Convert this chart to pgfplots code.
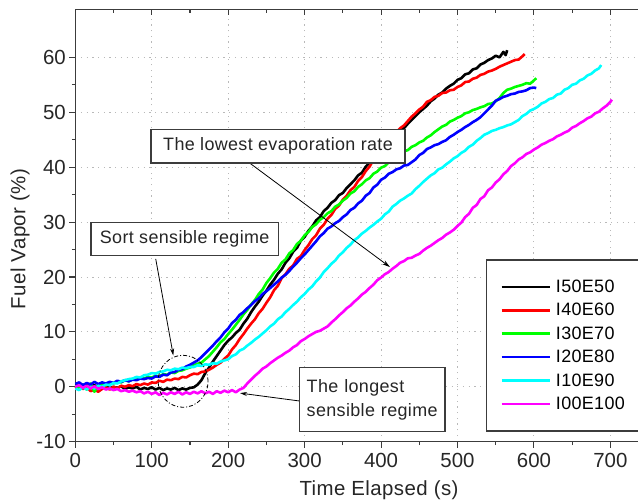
\documentclass[border=0pt]{standalone}
\usepackage{pgfplots}
\pgfplotsset{compat=1.18}
\usepackage{fontspec}
\setmainfont{Liberation Sans}
\newfontfamily\lsp{Liberation Sans}[LetterSpace=2]
\usetikzlibrary{arrows.meta}
\definecolor{axgray}{HTML}{3C3C3C}
\definecolor{cI50}{HTML}{000000}
\definecolor{cI40}{HTML}{FF0000}
\definecolor{cI30}{HTML}{00FF00}
\definecolor{cI20}{HTML}{0000FF}
\definecolor{cI10}{HTML}{00FFFF}
\definecolor{cI00}{HTML}{FF00FF}
\begin{document}
\begin{tikzpicture}
\pgfplotsset{
  common/.style={
    scale only axis, width=588.6bp, height=432.4bp,
    xmin=0, xmax=770, ymin=-10, ymax=68.75,
    xtick={0,100,...,700}, ytick={-10,0,...,60},
    minor x tick num=1, minor y tick num=1,
    major tick length=6bp, minor tick length=3.5bp,
    axis line style={draw=axgray, line width=1.3bp},
    every tick/.style={draw=axgray, line width=1.1bp},
  }
}
\begin{axis}[common,
  at={(0,0)}, anchor=south west,
  xtick pos=bottom, ytick pos=left, tick align=outside,
  clip=false,
  grid=major,
  major grid style={draw=gray!55, line width=0.9bp, dash pattern=on 1.2bp off 4.5bp},
  /pgf/number format/assume math mode=true,
  ticklabel style={font=\fontsize{20.5}{24}\selectfont, text=black!85},
  xticklabel style={yshift=-2bp},
  xlabel={\lsp Time Elapsed (s)},
  ylabel={\lsp Fuel Vapor (\%)},
  label style={font=\fontsize{20.5}{24}\selectfont, text=black!85},
  xlabel style={at={(axis cs:397.3,-10)}, anchor=base, yshift=-53.3bp},
  ylabel style={at={(axis description cs:-0.094,0.4688)}, anchor=center, rotate=0},
  legend cell align=left,
  legend image code/.code={\draw[#1, line width=2.6bp] (0bp,0bp) -- (48bp,0bp);},
  legend style={at={(axis cs:536.9,68.75)}, anchor=north west, yshift=-250bp,
    draw=axgray, line width=1.2bp, fill=white, inner xsep=14bp, inner ysep=20bp,
    row sep=9.4bp, column sep=5bp,
    font=\lsp\fontsize{18}{18}\selectfont,
    nodes={inner sep=0pt}},
  every axis plot/.append style={line width=2.6bp, line join=round},
]
\addplot[cI50] coordinates {
(0,0.2)(5,0.4)(10,-0.1)(15,0.3)(20,0.0)(25,0.3)(30,-0.2)(35,0.1)(40,0.2)(45,-0.3)
(50,0.0)(55,-0.2)(60,0.1)(65,-0.4)(70,-0.1)(75,-0.3)(80,0.0)(85,-0.5)(90,-0.2)(95,-0.4)
(100,-0.1)(105,-0.5)(110,-0.2)(115,-0.6)(120,-0.3)(125,-0.5)(130,-0.2)(135,-0.6)(140,-0.3)(145,-0.5)
(150,-0.2)(155,-0.1)(160,0.4)(165,1.2)(170,2.5)(175,3.5)(180,4.6)(185,5.6)(190,6.6)(195,7.6)
(200,8.4)(205,9.0)(210,9.8)(215,10.4)(220,11.5)(225,12.4)(230,13.6)(235,14.6)(240,15.5)(245,16.6)
(250,17.5)(255,18.6)(260,19.5)(265,20.6)(270,21.4)(275,22.6)(280,23.4)(285,24.6)(290,25.3)(295,26.6)
(300,27.3)(305,28.4)(310,29.2)(315,30.3)(320,30.9)(325,32.0)(330,32.6)(335,33.5)(340,34.0)(345,34.9)
(350,35.3)(355,36.2)(360,36.9)(365,37.6)(370,38.5)(375,39.0)(380,40.1)(385,40.8)(390,41.9)(395,42.4)
(400,43.5)(405,44.1)(410,44.6)(415,45.5)(420,45.9)(425,46.8)(430,47.1)(435,47.9)(440,48.6)(445,49.3)
(450,50.0)(455,50.6)(460,51.2)(465,52.0)(470,52.5)(475,53.2)(480,53.6)(485,54.3)(490,54.8)(495,55.2)
(500,55.9)(505,56.2)(510,56.9)(515,57.1)(520,57.8)(525,58.0)(530,58.7)(535,59.0)(540,59.5)(545,59.8)
(550,60.3)(555,60.0)(560,61.0)(563,60.4)(565,61.3)
};
\addlegendentry{I50E50}
\addplot[cI40] coordinates {
(0,-0.3)(5,0.2)(10,-0.4)(15,0.0)(20,-0.8)(25,-0.5)(30,-0.9)(35,-0.4)(40,-0.1)(45,-0.5)
(50,0.0)(55,-0.3)(60,0.2)(65,0.0)(70,0.3)(75,0.1)(80,0.5)(85,0.3)(90,0.6)(95,0.4)
(100,0.8)(105,0.7)(110,1.1)(115,0.9)(120,1.3)(125,1.2)(130,1.5)(135,1.4)(140,1.8)(145,1.7)
(150,2.1)(155,2.4)(160,2.3)(165,2.7)(170,2.8)(175,3.1)(180,3.5)(185,4.0)(190,4.4)(195,5.1)
(200,5.7)(205,6.8)(210,7.6)(215,8.7)(220,9.6)(225,10.6)(230,11.5)(235,12.3)(240,13.4)(245,14.2)
(250,15.3)(255,16.3)(260,17.6)(265,18.4)(270,19.8)(275,20.5)(280,21.5)(285,22.1)(290,23.3)(295,23.8)
(300,24.9)(305,25.8)(310,26.9)(315,27.6)(320,28.8)(325,29.5)(330,30.6)(335,31.3)(340,32.4)(345,33.0)
(350,34.1)(355,34.8)(360,35.8)(365,36.4)(370,37.5)(375,38.2)(380,39.3)(385,40.1)(390,41.3)(395,42.0)
(400,43.2)(405,43.9)(410,45.0)(415,45.6)(420,46.4)(425,47.1)(430,47.6)(435,48.4)(440,49.2)(445,49.8)
(450,50.5)(455,51.0)(460,51.9)(465,52.2)(470,52.8)(475,53.0)(480,53.5)(485,53.6)(490,54.0)(495,54.1)
(500,54.6)(505,54.9)(510,55.5)(515,55.6)(520,56.1)(525,56.3)(530,56.8)(535,57.0)(540,57.4)(545,57.6)
(550,57.9)(555,58.3)(560,58.6)(565,58.9)(570,59.2)(575,59.5)(580,59.6)(585,60.2)(588,60.6)
};
\addlegendentry{I40E60}
\addplot[cI30] coordinates {
(0,0.3)(5,-0.2)(10,0.4)(15,-0.5)(20,0.6)(25,-0.9)(30,0.2)(35,0.5)(40,0.3)(45,0.8)
(50,0.6)(55,1.0)(60,0.8)(65,1.2)(70,1.0)(75,1.4)(80,1.3)(85,1.6)(90,1.5)(95,1.8)
(100,1.7)(105,2.0)(110,1.9)(115,2.3)(120,2.2)(125,2.6)(130,2.5)(135,2.9)(140,3.0)(145,3.3)
(150,3.5)(155,3.9)(160,4.2)(165,4.4)(170,5.0)(175,5.6)(180,6.4)(185,7.2)(190,8.1)(195,8.7)
(200,9.6)(205,10.4)(210,11.3)(215,12.2)(220,13.2)(225,14.0)(230,15.0)(235,15.8)(240,16.9)(245,17.7)
(250,18.9)(255,19.8)(260,20.8)(265,21.5)(270,22.6)(275,23.2)(280,24.3)(285,24.9)(290,26.0)(295,26.6)
(300,27.6)(305,28.2)(310,29.1)(315,29.6)(320,30.4)(325,30.9)(330,31.6)(335,32.0)(340,32.8)(345,33.2)
(350,33.9)(355,34.4)(360,35.2)(365,35.6)(370,36.4)(375,36.9)(380,37.6)(385,38.0)(390,38.8)(395,39.2)
(400,39.9)(405,40.2)(410,40.9)(415,41.3)(420,41.9)(425,42.3)(430,42.9)(435,43.1)(440,43.7)(445,44.0)
(450,44.5)(455,44.8)(460,45.4)(465,45.8)(470,46.4)(475,46.9)(480,47.4)(485,47.7)(490,48.3)(495,48.6)
(500,49.0)(505,49.3)(510,49.8)(515,50.0)(520,50.4)(525,50.6)(530,50.9)(535,51.1)(540,51.5)(545,51.6)
(550,52.0)(555,52.6)(560,53.5)(565,54.1)(570,54.3)(575,54.6)(580,54.8)(585,55.0)(590,55.3)(595,55.2)
(600,55.8)(603,56.2)
};
\addlegendentry{I30E70}
\addplot[cI20] coordinates {
(0,0.5)(5,0.8)(10,0.3)(15,0.7)(20,0.4)(25,0.9)(30,0.5)(35,0.8)(40,0.6)(45,0.9)
(50,0.7)(55,1.1)(60,0.9)(65,1.2)(70,1.0)(75,1.3)(80,1.2)(85,1.5)(90,1.4)(95,1.6)
(100,1.5)(105,1.9)(110,1.8)(115,2.2)(120,2.1)(125,2.6)(130,2.7)(135,3.1)(140,3.2)(145,3.7)
(150,4.0)(155,4.4)(160,4.8)(165,5.4)(170,6.1)(175,6.8)(180,7.5)(185,8.3)(190,9.0)(195,9.9)
(200,10.6)(205,11.6)(210,12.2)(215,13.1)(220,13.6)(225,14.3)(230,14.9)(235,15.6)(240,16.1)(245,16.9)
(250,17.4)(255,18.0)(260,18.6)(265,19.2)(270,19.9)(275,20.4)(280,21.1)(285,21.9)(290,22.6)(295,23.4)
(300,24.1)(305,24.9)(310,25.7)(315,26.5)(320,27.4)(325,28.0)(330,28.8)(335,29.2)(340,29.8)(345,30.2)
(350,30.9)(355,31.4)(360,32.2)(365,32.6)(370,33.4)(375,33.9)(380,34.8)(385,35.3)(390,36.3)(395,36.8)
(400,37.7)(405,38.1)(410,38.8)(415,39.1)(420,39.6)(425,39.8)(430,40.3)(435,40.4)(440,40.9)(445,41.4)
(450,42.2)(455,42.6)(460,43.3)(465,43.6)(470,44.0)(475,44.2)(480,44.6)(485,44.9)(490,45.5)(495,45.9)
(500,46.4)(505,46.8)(510,47.3)(515,47.7)(520,48.2)(525,48.6)(530,49.1)(535,49.8)(540,50.5)(545,51.2)
(550,52.1)(555,52.4)(560,52.8)(565,53.0)(570,53.3)(575,53.4)(580,53.7)(585,53.8)(590,54.0)(595,54.4)
(600,54.5)(603,54.4)
};
\addlegendentry{I20E80}
\addplot[cI10] coordinates {
(0,-0.3)(5,-0.6)(10,-0.1)(15,-0.5)(20,0.0)(25,-0.3)(30,0.2)(35,0.0)(40,0.4)(45,0.3)
(50,0.7)(55,0.6)(60,1.0)(65,1.2)(70,1.4)(75,1.5)(80,1.8)(85,1.7)(90,2.1)(95,2.2)
(100,2.5)(105,2.4)(110,2.7)(115,2.8)(120,3.1)(125,3.0)(130,3.3)(135,3.2)(140,3.5)(145,3.4)
(150,3.6)(155,3.6)(160,3.9)(165,3.8)(170,4.1)(175,4.0)(180,4.3)(185,4.2)(190,4.6)(195,4.8)
(200,5.0)(205,5.6)(210,5.9)(215,6.6)(220,6.9)(225,7.5)(230,8.0)(235,8.6)(240,9.1)(245,9.7)
(250,10.3)(255,11.0)(260,11.5)(265,12.3)(270,12.8)(275,13.6)(280,14.2)(285,14.9)(290,15.5)(295,16.3)
(300,16.9)(305,17.7)(310,18.3)(315,19.2)(320,19.9)(325,20.9)(330,21.6)(335,22.4)(340,23.0)(345,23.9)
(350,24.5)(355,25.3)(360,25.9)(365,26.7)(370,27.2)(375,27.9)(380,28.4)(385,29.0)(390,29.5)(395,30.1)
(400,30.6)(405,31.4)(410,31.9)(415,32.8)(420,33.3)(425,33.9)(430,34.3)(435,34.8)(440,35.2)(445,36.0)
(450,36.6)(455,37.3)(460,37.9)(465,38.5)(470,38.9)(475,39.6)(480,39.9)(485,40.5)(490,41.0)(495,41.6)
(500,42.0)(505,42.6)(510,43.0)(515,43.7)(520,44.1)(525,44.8)(530,45.3)(535,45.9)(540,46.2)(545,46.6)
(550,46.8)(555,47.1)(560,47.3)(565,47.6)(570,47.8)(575,48.2)(580,48.6)(585,49.3)(590,49.7)(595,50.3)
(600,50.6)(605,51.0)(610,51.6)(615,51.9)(620,52.4)(625,52.6)(630,53.2)(635,53.4)(640,54.1)(645,54.4)
(650,55.0)(655,55.2)(660,55.8)(665,56.1)(670,56.7)(675,57.0)(680,57.6)(685,58.0)(688,58.6)
};
\addlegendentry{I10E90}
\addplot[cI00] coordinates {
(0,0.0)(5,0.3)(10,-0.2)(15,0.2)(20,-0.3)(25,0.1)(30,-0.4)(35,-0.1)(40,-0.5)(45,-0.3)
(50,-0.6)(55,-0.4)(60,-0.8)(65,-0.6)(70,-0.9)(75,-0.7)(80,-1.0)(85,-0.8)(90,-1.2)(95,-0.9)
(100,-1.3)(105,-1.0)(110,-1.5)(115,-1.1)(120,-1.4)(125,-1.0)(130,-1.3)(135,-0.9)(140,-1.4)(145,-1.0)
(150,-1.3)(155,-0.9)(160,-1.2)(165,-0.8)(170,-1.2)(175,-0.9)(180,-1.3)(185,-0.8)(190,-1.1)(195,-0.7)
(200,-1.0)(205,-0.6)(210,-1.0)(215,-0.5)(220,-0.2)(225,0.6)(230,1.3)(235,2.0)(240,2.6)(245,3.3)
(250,3.7)(255,4.3)(260,4.8)(265,5.3)(270,5.7)(275,6.2)(280,6.6)(285,7.2)(290,7.6)(295,8.3)
(300,8.7)(305,9.2)(310,9.6)(315,10.0)(320,10.2)(325,10.6)(330,11.0)(335,11.7)(340,12.3)(345,13.0)
(350,13.6)(355,14.3)(360,14.8)(365,15.5)(370,16.1)(375,16.8)(380,17.3)(385,18.0)(390,18.6)(395,19.4)
(400,19.9)(405,20.5)(410,20.9)(415,21.5)(420,22.0)(425,22.6)(430,22.9)(435,23.4)(440,23.5)(445,23.9)
(450,24.2)(455,24.8)(460,25.3)(465,25.7)(470,26.2)(475,26.7)(480,27.1)(485,27.7)(490,28.1)(495,28.6)
(500,29.3)(505,29.9)(510,30.9)(515,31.5)(520,32.6)(525,33.1)(530,34.2)(535,34.7)(540,35.8)(545,36.3)
(550,37.2)(555,37.8)(560,38.7)(565,39.3)(570,40.2)(575,40.7)(580,41.4)(585,41.8)(590,42.4)(595,42.7)
(600,43.2)(605,43.6)(610,44.1)(615,44.4)(620,44.8)(625,45.1)(630,45.6)(635,45.9)(640,46.3)(645,46.6)
(650,47.2)(655,47.5)(660,48.0)(665,48.4)(670,48.9)(675,49.2)(680,49.8)(685,50.1)(690,50.7)(695,51.2)
(700,51.9)(702,52.3)
};
\addlegendentry{\makebox[95bp][l]{I00E100}}
% annotations
\tikzset{anno/.style={draw=axgray, line width=1.2bp, fill=white, inner sep=0pt,
  font=\lsp\fontsize{18}{24}\selectfont, text=black!85}}
\draw[line width=0.8bp, -{Stealth[length=8bp,width=4.5bp]}] (axis cs:228.6,40.7) -- (axis cs:411.7,21.8);
\node[anno, minimum width=254bp, minimum height=33.4bp] at (axis cs:265.2,43.8) {The lowest evaporation rate};
\draw[line width=0.8bp, -{Stealth[length=7bp,width=4bp]}] (axis cs:105.2,23.3) -- (axis cs:128.2,5.7);
\node[anno, minimum width=187.3bp, minimum height=33.3bp] at (axis cs:143.1,26.95) {Sort sensible regime};
\draw[line width=0.8bp, dash pattern=on 4bp off 2bp on 1bp off 2bp] (axis cs:141,1.0) ellipse [x radius=25bp, y radius=26bp];
\draw[line width=0.8bp, -{Stealth[length=7bp,width=4bp]}] (axis cs:294,-2.6) -- (axis cs:215.5,-1.15);
\node[anno, minimum width=145.7bp, minimum height=63.7bp, text width=131bp, align=left] at (axis cs:388.4,-2.33) {The longest\\sensible regime};
\end{axis}
\begin{axis}[common,
  at={(0,0)}, anchor=south west,
  xtick pos=top, tick align=inside, xticklabels={},
  ytick=\empty, minor ytick={}, axis line style={draw=none},
]
\end{axis}
\pgfresetboundingbox
\path[use as bounding box] (-75.3bp,-62.3bp) rectangle (562.7bp,441.7bp);
\end{tikzpicture}
\end{document}
